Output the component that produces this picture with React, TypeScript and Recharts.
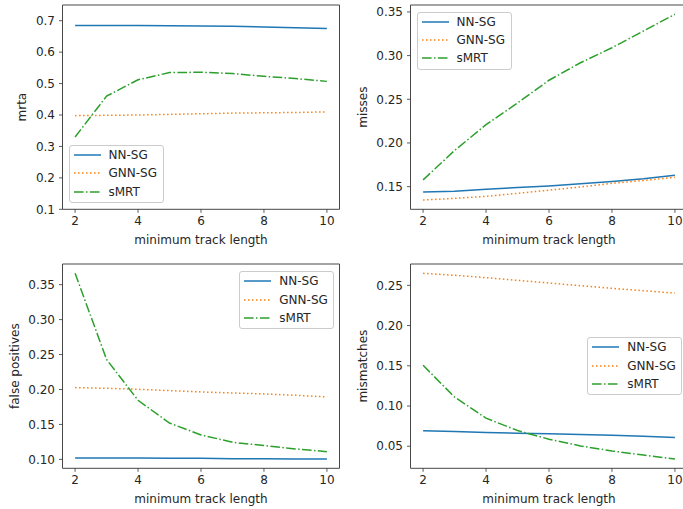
import React from 'react';
import { LineChart, Line, XAxis, YAxis, ReferenceArea, Legend } from 'recharts';

// minimum track length (x axis)
const trackLengths = [2, 3, 4, 5, 6, 7, 8, 9, 10];

// mrta
const mrtaNN = [0.685, 0.685, 0.685, 0.684, 0.683, 0.682, 0.68, 0.678, 0.675];
const mrtaGNN = [0.398, 0.399, 0.4, 0.402, 0.404, 0.406, 0.407, 0.408, 0.41];
const mrtaSMRT = [0.33, 0.46, 0.512, 0.535, 0.536, 0.532, 0.523, 0.516, 0.507];

// misses
const missesNN = [0.144, 0.1446, 0.147, 0.1489, 0.1508, 0.1534, 0.156, 0.159, 0.163];
const missesGNN = [0.1347, 0.1366, 0.1389, 0.1423, 0.146, 0.1496, 0.1538, 0.157, 0.1607];
const missesSMRT = [0.1577, 0.1914, 0.2209, 0.2458, 0.2718, 0.2918, 0.309, 0.3282, 0.3473];

// false positives
const fpNN = [0.102, 0.102, 0.102, 0.1015, 0.1015, 0.101, 0.101, 0.1005, 0.1005];
const fpGNN = [0.2027, 0.2017, 0.2003, 0.1984, 0.1965, 0.195, 0.1936, 0.1917, 0.1893];
const fpSMRT = [0.3663, 0.243, 0.1845, 0.152, 0.135, 0.1245, 0.1197, 0.115, 0.111];

// mismatches
const mmNN = [0.0691, 0.0683, 0.067, 0.0662, 0.0654, 0.0645, 0.0637, 0.0625, 0.0608];
const mmGNN = [0.265, 0.2625, 0.2596, 0.2562, 0.2529, 0.2496, 0.2463, 0.2433, 0.2404];
const mmSMRT = [0.1506, 0.1111, 0.0849, 0.0695, 0.0587, 0.0504, 0.0441, 0.0391, 0.0341];

const xTicks = [2, 4, 6, 8, 10];
const mrtaTicks = [0.1, 0.2, 0.3, 0.4, 0.5, 0.6, 0.7];
const missesTicks = [0.15, 0.2, 0.25, 0.3, 0.35];
const fpTicks = [0.1, 0.15, 0.2, 0.25, 0.3, 0.35];
const mmTicks = [0.05, 0.1, 0.15, 0.2, 0.25];

const seriesNames = ['NN-SG', 'GNN-SG', 'sMRT'];

const FONT = '"DejaVu Sans", sans-serif';
const FS = 12;
const TEXT = '#262626';
const SPINE = '#333';
const COLORS = ['#1f77b4', '#ff7f0e', '#2ca02c'];
const DASHES = [undefined, '1.5 2.5', '9.6 2.4 1.5 2.4'];

// matplotlib style 5% margin
const autoDomain = (arrs: number[][]) => {
  const all = arrs.flat();
  const lo = Math.min(...all);
  const hi = Math.max(...all);
  const m = (hi - lo) * 0.05;
  return [lo - m, hi + m];
};

const PLOT_W = 277;
const PLOT_H = 204.3;
const CHART_W = 345;
const CHART_H = 250;

interface Panel {
  ylabel: string;
  series: number[][];
  ticks: number[];
  decimals: number;
  domain: number[];
  left: number;
  top: number;
  labelDist: number;
  legendLeft: number;
  legendTop: number;
}

const panels: Panel[] = [
  {
    ylabel: 'mrta', series: [mrtaNN, mrtaGNN, mrtaSMRT], ticks: mrtaTicks, decimals: 1,
    domain: [0.1, 0.75], left: 0, top: 0, labelDist: 40.5, legendLeft: 68.5, legendTop: 145,
  },
  {
    ylabel: 'misses', series: [missesNN, missesGNN, missesSMRT], ticks: missesTicks, decimals: 2,
    domain: autoDomain([missesNN, missesGNN, missesSMRT]), left: 347.5, top: 0, labelDist: 47,
    legendLeft: 69, legendTop: 11.5,
  },
  {
    ylabel: 'false positives', series: [fpNN, fpGNN, fpSMRT], ticks: fpTicks, decimals: 2,
    domain: autoDomain([fpNN, fpGNN, fpSMRT]), left: 0, top: 259.3, labelDist: 47,
    legendLeft: 239.3, legendTop: 12,
  },
  {
    ylabel: 'mismatches', series: [mmNN, mmGNN, mmSMRT], ticks: mmTicks, decimals: 2,
    domain: autoDomain([mmNN, mmGNN, mmSMRT]), left: 347.5, top: 259.3, labelDist: 47,
    legendLeft: 239.8, legendTop: 78,
  },
];

const LegendBox = () => (
  <div
    style={{
      boxSizing: 'border-box',
      width: 95,
      height: 58,
      border: '1px solid #cccccc',
      borderRadius: 3,
      background: 'rgba(255,255,255,0.8)',
      fontFamily: FONT,
      fontSize: FS,
      color: TEXT,
      paddingLeft: 4,
    }}
  >
    {seriesNames.map((name, i) => (
      <div key={name} style={{ display: 'flex', alignItems: 'center', height: 18.3 }}>
        <svg width={27} height={6} style={{ display: 'block' }}>
          <line x1={0} y1={3} x2={27} y2={3} stroke={COLORS[i]} strokeWidth={1.5} strokeDasharray={DASHES[i]} />
        </svg>
        <span style={{ marginLeft: 8, lineHeight: '14px' }}>{name}</span>
      </div>
    ))}
  </div>
);

const ChartPanel = ({ p }: { p: Panel }) => {
  const rows = trackLengths.map((x, i) => ({
    x,
    s0: p.series[0][i],
    s1: p.series[1][i],
    s2: p.series[2][i],
  }));
  const marginLeft = 12.5;
  const yAxisW = 50;
  const marginTop = 5;
  const xAxisH = 40;
  return (
    <div style={{ position: 'absolute', left: p.left, top: p.top }}>
      <LineChart
        width={CHART_W}
        height={CHART_H}
        data={rows}
        margin={{
          top: marginTop,
          left: marginLeft,
          right: CHART_W - marginLeft - yAxisW - PLOT_W,
          bottom: CHART_H - marginTop - PLOT_H - xAxisH,
        }}
      >
        <XAxis
          dataKey="x"
          type="number"
          domain={[1.6, 10.4]}
          ticks={xTicks}
          allowDataOverflow
          height={xAxisH}
          axisLine={false}
          tickSize={3.5}
          tickMargin={4}
          tickLine={{ stroke: SPINE, strokeWidth: 0.8 }}
          tick={{ fontSize: FS, fill: TEXT, fontFamily: FONT }}
          label={{
            value: 'minimum track length',
            content: (props: any) => {
              const vb = props.viewBox;
              return (
                <text
                  x={vb.x + vb.width / 2}
                  y={vb.y + 30.5}
                  textAnchor="middle"
                  dominantBaseline="central"
                  fontSize={FS}
                  fontFamily={FONT}
                  fill={TEXT}
                >
                  minimum track length
                </text>
              );
            },
          }}
        />
        <YAxis
          type="number"
          domain={p.domain}
          ticks={p.ticks}
          allowDataOverflow
          width={yAxisW}
          axisLine={false}
          tickSize={3.5}
          tickMargin={4}
          tickLine={{ stroke: SPINE, strokeWidth: 0.8 }}
          tick={{ fontSize: FS, fill: TEXT, fontFamily: FONT }}
          tickFormatter={(v: number) => v.toFixed(p.decimals)}
          label={{
            value: p.ylabel,
            content: (props: any) => {
              const vb = props.viewBox;
              const cx = vb.x + vb.width - p.labelDist;
              const cy = vb.y + vb.height / 2;
              return (
                <text
                  x={cx}
                  y={cy}
                  transform={`rotate(-90 ${cx} ${cy})`}
                  textAnchor="middle"
                  dominantBaseline="central"
                  fontSize={FS}
                  fontFamily={FONT}
                  fill={TEXT}
                >
                  {p.ylabel}
                </text>
              );
            },
          }}
        />
        {[0, 1, 2].map((i) => (
          <Line
            key={i}
            type="linear"
            dataKey={`s${i}`}
            name={seriesNames[i]}
            stroke={COLORS[i]}
            strokeWidth={1.5}
            strokeDasharray={DASHES[i]}
            dot={false}
            activeDot={false}
            isAnimationActive={false}
          />
        ))}
        <ReferenceArea
          x1={1.6}
          x2={10.4}
          y1={p.domain[0]}
          y2={p.domain[1]}
          fill="none"
          stroke={SPINE}
          strokeWidth={0.9}
          ifOverflow="visible"
        />
        <Legend
          layout="vertical"
          align="center"
          verticalAlign="middle"
          content={() => <LegendBox />}
          wrapperStyle={{ left: p.legendLeft, top: p.legendTop, width: 'auto', height: 'auto' }}
        />
      </LineChart>
    </div>
  );
};

export default function App() {
  return (
    <div
      style={{
        position: 'fixed',
        left: 0,
        top: 0,
        width: 683,
        height: 509,
        overflow: 'hidden',
        background: '#fff',
      }}
    >
      {panels.map((p) => (
        <ChartPanel key={p.ylabel} p={p} />
      ))}
    </div>
  );
}
